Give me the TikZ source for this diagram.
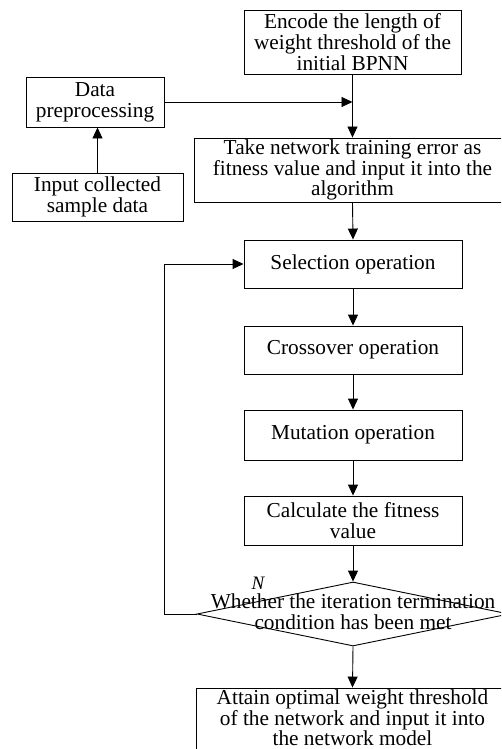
\documentclass[tikz,border=0pt]{standalone}
\usepackage{fontspec}
\setmainfont{Liberation Serif}
\usetikzlibrary{shapes.geometric,arrows.meta}

\begin{document}
\begin{tikzpicture}[x=1pt,y=-1pt,
  txt/.style={font=\fontsize{21.3}{20.8}\selectfont, align=center, inner sep=0pt},
  procbox/.style={txt, draw, line width=0.9pt, rectangle},
  decbox/.style={draw, line width=0.9pt, shape=diamond, inner sep=0pt,
                 minimum width=312pt, minimum height=64pt},
  flow/.style={line width=0.9pt, -{Triangle[length=11pt,width=10pt]}}
]
\useasboundingbox (0,0) rectangle (501,749);
\clip (0,0) rectangle (501,749);

% process boxes
\node[procbox, minimum width=217pt, minimum height=64pt] (enc) at (352.5,42)
  {Encode the length of\\weight threshold of the\\initial BPNN};
\node[procbox, minimum width=317pt, minimum height=64pt] (take) at (352.5,170)
  {Take network training error as\\fitness value and input it into the\\algorithm};
\node[procbox, minimum width=138pt, minimum height=50pt] (data) at (95,102)
  {Data\\preprocessing};
\node[procbox, minimum width=171pt, minimum height=48pt] (inp) at (97.5,197)
  {Input collected\\sample data};
\node[procbox, minimum width=218pt, minimum height=48pt] (sel) at (353,264)
  {Selection operation};
\node[procbox, minimum width=218pt, minimum height=48pt] (cro) at (353,350)
  {Crossover operation};
\node[procbox, minimum width=218pt, minimum height=50pt] (mut) at (353,435)
  {Mutation operation};
\node[procbox, minimum width=218pt, minimum height=49pt] (calc) at (353,520.5)
  {Calculate the fitness\\value};

% decision
\node[decbox] (dia) at (353,614) {};
\node[txt] (diatext) at (353,612)
  {Whether the iteration termination\\condition has been met};
\node[font=\fontsize{19}{19}\selectfont\itshape, inner sep=0pt] (nlab) at (258,583) {N};

% final box: its frame runs past the lower and right edges
\node[procbox, minimum width=313pt, minimum height=80pt] (fin) at (352.5,728) {};
\node[txt, font=\fontsize{21.3}{20.4}\selectfont] (fintext) at (352.5,718)
  {Attain optimal weight threshold\\of the network and input it into\\the network model};

% connectors
\coordinate (join) at (enc.south |- data.east);
\coordinate (loop) at (164,614);

\draw[flow] (enc.south) -- (take.north);
\draw[flow] (data.east) -- (join);
\draw[flow] (inp.north) -- (inp.north |- data.south);
\draw[flow] (take.south) -- (sel.north);
\draw[flow] (sel.south) -- (cro.north);
\draw[flow] (cro.south) -- (mut.north);
\draw[flow] (mut.south) -- (calc.north);
\draw[flow] (calc.south) -- (dia.north);
\draw[flow] (dia.west) -- (loop) |- (sel.west);
\draw[flow] (dia.south) -- (fin.north);
\end{tikzpicture}
\end{document}
